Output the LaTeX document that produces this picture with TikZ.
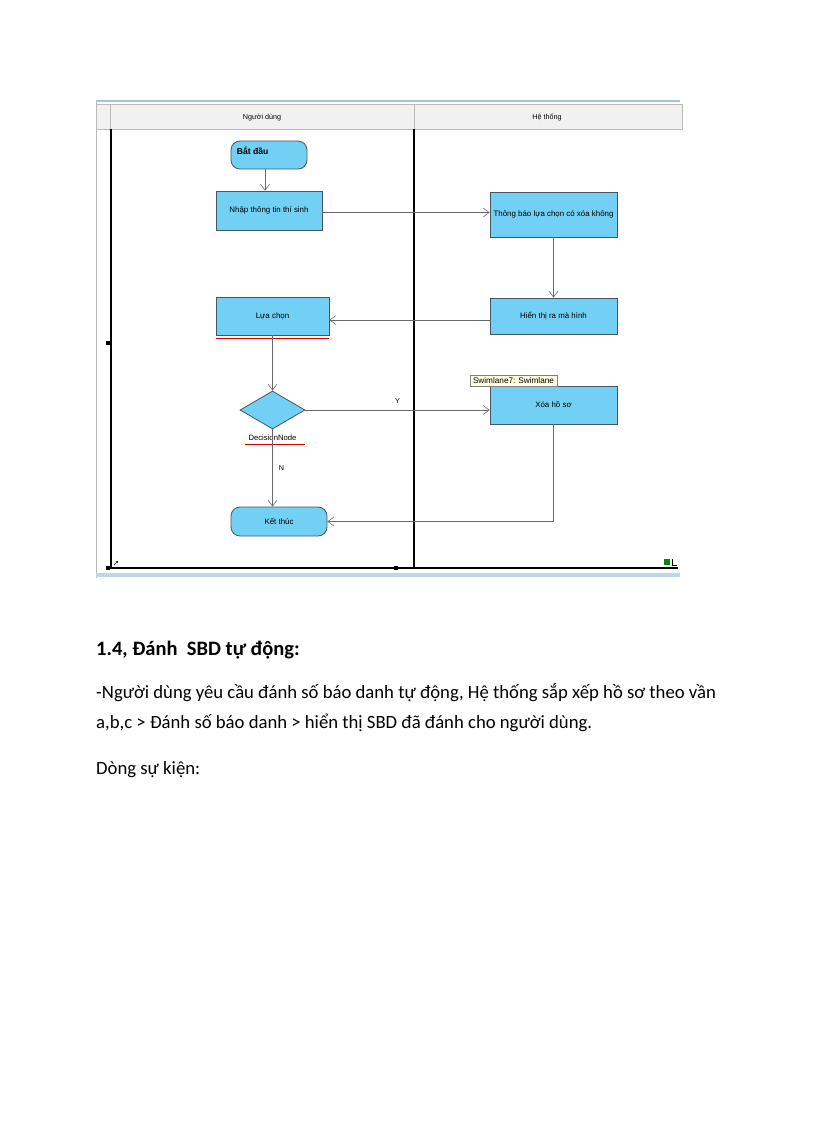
\documentclass[tikz,border=0pt]{standalone}
\usepackage{fontspec}
\setmainfont{Carlito}
\newfontfamily\umlfont{Liberation Sans}
\usetikzlibrary{arrows.meta,shapes.geometric}
\definecolor{actfill}{RGB}{115,208,245}
\definecolor{actline}{RGB}{70,85,100}
\definecolor{flowline}{RGB}{105,105,105}
\definecolor{headfill}{RGB}{241,241,241}
\definecolor{headline}{RGB}{185,185,185}
\definecolor{tipfill}{RGB}{255,255,225}
\definecolor{winblue}{RGB}{165,195,220}
\begin{document}
\begin{tikzpicture}[x=1pt,y=-1pt,
  every node/.style={inner sep=0pt},
  act/.style={draw=actline,fill=actfill,line width=0.8pt,font=\umlfont\fontsize{7.9}{9}\selectfont,align=center},
  terminal/.style={act,rounded corners=9pt},
  choice/.style={draw=actline,fill=actfill,line width=0.8pt,diamond,aspect=1.71,minimum width=65pt,minimum height=38pt},
  flow/.style={draw=flowline,line width=0.6pt,-{Straight Barb[length=6pt,width=9pt]}},
  lane/.style={black,line width=1.3pt},
  head/.style={draw=headline,fill=headfill,line width=0.6pt},
  small/.style={font=\umlfont\fontsize{7.2}{8}\selectfont},
  squiggle/.style={red!85!black,line width=0.9pt},
  body/.style={anchor=base west,font=\fontsize{18.7}{22}\selectfont}]
\fill [white] (0,0) rectangle (816,1123);
\useasboundingbox (0,0) rectangle (816,1123);
\draw [headline,line width=0.8pt] (96,101) -- (96,578);
\draw [winblue,line width=2pt] (96,101) -- (680,101);
\draw [head] (96,104) rectangle (110,129);
\draw [head] (110,104) rectangle (414,129);
\draw [head] (414,104) rectangle (682,129);
\node [small,anchor=base] (userlane) at (262,120) {Người dùng};
\node [small,anchor=base] (systemlane) at (547,120) {Hệ thống};
\draw [lane] (111,129) -- (111,568);
\draw [lane] (414,129) -- (414,568);
\draw [lane] (108,568) -- (678,568);
\fill [black] (106,566) rectangle (110,570);
\fill [black] (394,566) rectangle (398,570);
\fill [black] (106,341) rectangle (110,345);
\fill [winblue!70] (96,573) rectangle (680,577);
\draw [black,line width=0.5pt,-{Straight Barb[length=1.5pt,width=2.5pt]}] (114,565) -- (118,561);
\fill [green!55!black] (664,559) rectangle (670,565);
\draw [black,line width=0.5pt] (672,559) -- (672,565) -- (677,565);
\node [terminal,minimum width=76pt,minimum height=28pt,label={[anchor=north west,xshift=6pt,yshift=-6pt,font=\umlfont\bfseries\fontsize{8.6}{9}\selectfont]north west:Bắt đầu}] (start) at (269,155) {};
\node [act,minimum width=106pt,minimum height=39pt] (input) at (269,210.5) {Nhập thông tin thí sinh};
\node [act,minimum width=127pt,minimum height=45pt] (notice) at (553.5,214.5) {Thông báo lựa chọn có xóa không};
\node [act,minimum width=127pt,minimum height=36pt] (display) at (553.5,316) {Hiển thị ra mà hình};
\node [act,minimum width=113pt,minimum height=38pt] (choose) at (272.5,316) {Lựa chọn};
\node [choice] (decide) at (272.5,410) {};
\node [font=\umlfont\fontsize{7.7}{8}\selectfont] (decidename) at (272.5,438) {DecisionNode};
\node [act,minimum width=127pt,minimum height=38pt] (erase) at (553.5,405) {Xóa hồ sơ};
\node [terminal,minimum width=96pt,minimum height=29pt] (finish) at (279,521.5) {Kết thúc};
\node [draw=gray,fill=tipfill,line width=0.5pt,minimum width=87pt,minimum height=11pt,font=\umlfont\fontsize{8.2}{9}\selectfont] (tooltip) at (513.5,381) {Swimlane7: Swimlane};
\draw [squiggle] ([yshift=-3pt]choose.south west) -- ([yshift=-3pt]choose.south east);
\draw [squiggle] (245,444) -- (305,444);
\draw [flow] ([xshift=-4pt]start.south) -- ([xshift=-4pt]input.north);
\draw [flow] ([yshift=-2pt]input.east) -- ([yshift=-2pt]input.east -| notice.west);
\draw [flow] (notice) -- (display);
\draw [flow] ([yshift=-4pt]display.west) -- ([yshift=-4pt]display.west -| choose.east);
\draw [flow] (choose) -- (decide);
\draw [flow] (decide.east) -- (decide.east -| erase.west) node [small,midway,above=6pt] {Y};
\draw [flow] (decide.south) -- (decide.south |- finish.north) node [small,midway,right=6pt] {N};
\draw [flow] (erase.south) -- (erase.south |- finish.east) -- (finish.east);
\node [anchor=base west,font=\bfseries\fontsize{20.5}{24}\selectfont] (heading) at (96,655) {1.4, Đánh \ SBD tự động:};
\node [body] (lineone) at (96,698) {-Người dùng yêu cầu đánh số báo danh tự động, Hệ thống sắp xếp hồ sơ theo vần};
\node [body] (linetwo) at (96,728) {a,b,c > Đánh số báo danh > hiển thị SBD đã đánh cho người dùng.};
\node [body] (events) at (96,774) {Dòng sự kiện:};
\end{tikzpicture}
\end{document}
